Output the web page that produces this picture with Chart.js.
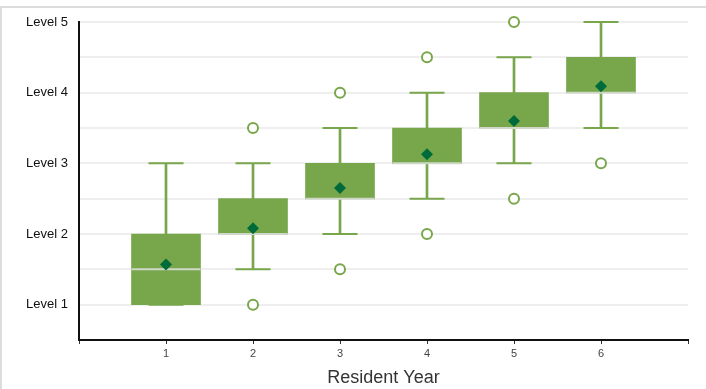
<!DOCTYPE html>
<html>
<head>
<meta charset="utf-8">
<script src="https://cdn.jsdelivr.net/npm/chart.js@4/dist/chart.umd.min.js"></script>
<style>
html,body{margin:0;padding:0;background:#fff;}
#wrap{position:relative;width:706px;height:389px;}
#frame{position:absolute;left:0;top:6px;width:706px;height:400px;border-top:2px solid #dcdcdc;border-left:2px solid #dcdcdc;box-sizing:border-box;pointer-events:none;}
canvas{position:absolute;left:0;top:0;}
</style>
</head>
<body>
<div id="wrap">
<canvas id="c" width="706" height="389"></canvas>
<div id="frame"></div>
</div>
<script>
// Data
const years = [1, 2, 3, 4, 5, 6];
const whiskerMin = [1, 1.5, 2, 2.5, 3, 3.5];
const q1 = [1, 2, 2.5, 3, 3.5, 4];
const median = [1.5, 2, 2.5, 3, 3.5, 4];
const q3 = [2, 2.5, 3, 3.5, 4, 4.5];
const whiskerMax = [3, 3, 3.5, 4, 4.5, 5];
const means = [1.57, 2.08, 2.65, 3.13, 3.6, 4.09];
const outliers = [[], [3.5, 1], [4, 1.5], [4.5, 2], [5, 2.5], [3]];
const yTickLabels = {1: 'Level 1', 2: 'Level 2', 3: 'Level 3', 4: 'Level 4', 5: 'Level 5'};
const xTitle = 'Resident Year';

const green = '#78a64b';
const dark = '#006b3a';
const medianColor = '#cfd8c8';

const stems = years.map((x, i) => ({x, y: [whiskerMin[i], whiskerMax[i]]}));
const boxes = years.map((x, i) => ({x, y: [q1[i], q3[i]]}));
const caps = [];
years.forEach((x, i) => { caps.push({x, y: whiskerMin[i]}); caps.push({x, y: whiskerMax[i]}); });
const meds = years.map((x, i) => ({x, y: median[i]}));
const meanPts = years.map((x, i) => ({x, y: means[i]}));
const outPts = [];
years.forEach((x, i) => outliers[i].forEach(v => outPts.push({x, y: v})));

new Chart(document.getElementById('c'), {
  type: 'scatter',
  data: {
    datasets: [
      {type: 'bar', data: stems, backgroundColor: green, barThickness: 2, grouped: false, order: 6, borderWidth: 0},
      {type: 'scatter', data: caps, pointStyle: 'line', pointRadius: 17.5, borderColor: green, borderWidth: 2, order: 5, clip: false},
      {type: 'bar', data: boxes, backgroundColor: green, barThickness: 69, grouped: false, order: 4, borderWidth: 0},
      {type: 'scatter', data: meds, pointStyle: 'line', pointRadius: 34.5, borderColor: medianColor, borderWidth: 2, order: 3},
      {type: 'scatter', data: meanPts, pointStyle: 'rectRot', pointRadius: 6, backgroundColor: dark, borderColor: dark, borderWidth: 0, order: 2},
      {type: 'scatter', data: outPts, pointStyle: 'circle', pointRadius: 5, backgroundColor: '#fff', borderColor: green, borderWidth: 2, order: 1, clip: false}
    ]
  },
  options: {
    responsive: false,
    animation: false,
    events: [],
    layout: {autoPadding: false, padding: {left: 0, right: 18, top: 22, bottom: 0}},
    plugins: {legend: {display: false}, tooltip: {enabled: false}},
    scales: {
      x: {
        type: 'linear', min: 0, max: 7, offset: false,
        afterFit: s => { s.height = 49; },
        grid: {display: true, drawOnChartArea: false, drawTicks: true, tickLength: 4, color: '#333', offset: false},
        border: {display: true, color: '#111', width: 2},
        ticks: {stepSize: 1, padding: 3, color: '#444', font: {family: 'Liberation Sans', size: 11},
          callback: v => (v >= 1 && v <= 6) ? String(v) : ''},
        title: {display: true, text: xTitle, color: '#333', font: {family: 'Liberation Sans', size: 18}, padding: {top: 0, bottom: 0}}
      },
      y: {
        type: 'linear', min: 0.5, max: 5,
        afterFit: s => { s.width = 79; },
        grid: {color: '#eeeeee', lineWidth: 2, drawTicks: false},
        border: {display: true, color: '#111', width: 2},
        ticks: {stepSize: 0.5, padding: 11, color: '#111', font: {family: 'Liberation Sans', size: 13},
          callback: v => yTickLabels[v] || ''}
      }
    }
  }
});
</script>
</body>
</html>
